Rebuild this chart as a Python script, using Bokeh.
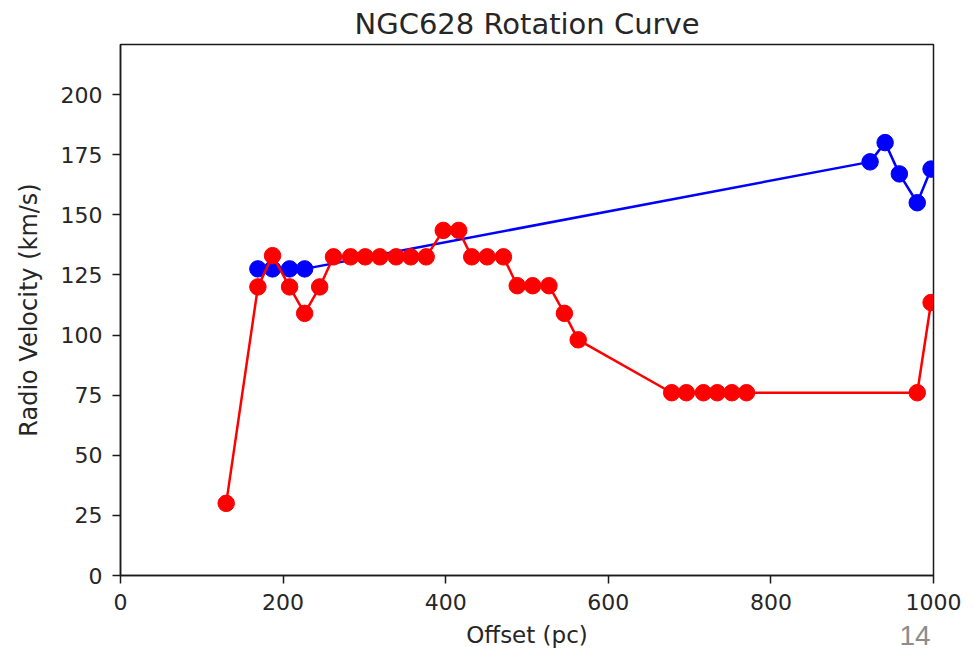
from bokeh.plotting import figure
from bokeh.models import Range1d, FixedTicker, Label
from bokeh.embed import file_html
from bokeh.resources import INLINE

# Data
blue_offset = [169, 187, 208, 226.5, 922, 940.5, 958, 980, 997]
blue_velocity = [127.5, 127.5, 127.5, 127.5, 172, 180, 167, 155, 169]

red_offset = [130, 169, 187, 208, 226.5, 245, 262, 283, 301, 319, 339, 357, 376,
              397, 416, 432, 451, 471, 488, 507, 527, 546, 563,
              678, 696, 717, 734, 752, 770, 980, 997]
red_velocity = [30, 120, 133, 120, 109, 120, 132.5, 132.5, 132.5, 132.5, 132.5, 132.5, 132.5,
                143.5, 143.5, 132.5, 132.5, 132.5, 120.5, 120.5, 120.5, 109, 98,
                76, 76, 76, 76, 76, 76, 76, 113.5]

x_ticks = [0, 200, 400, 600, 800, 1000]
y_ticks = [0, 25, 50, 75, 100, 125, 150, 175, 200]

slide_number = "14"

FONT = "DejaVu Sans"
TXT = "#262626"

FL, FR, FT, FB = 120, 933, 44, 575  # frame edges in canvas pixels

p = figure(width=974, height=651, output_backend="svg", toolbar_location=None,
           x_range=Range1d(0, 1000), y_range=Range1d(0, 220.8),
           title="NGC628 Rotation Curve",
           min_border_left=FL, min_border_right=974 - FR, min_border_top=FT,
           min_border_bottom=651 - FB)

p.title.align = "center"
p.title.text_font = FONT
p.title.text_font_size = "29px"
p.title.text_font_style = "normal"
p.title.text_color = TXT
p.title.standoff = 8

p.grid.visible = False
p.outline_line_color = "#1a1a1a"
p.outline_line_width = 1.5
p.background_fill_color = "white"
p.border_fill_color = "white"

for ax in (p.xaxis[0], p.yaxis[0]):
    ax.axis_line_color = "#1a1a1a"
    ax.axis_line_width = 1.5
    ax.major_tick_line_color = "#1a1a1a"
    ax.major_tick_line_width = 1.5
    ax.major_tick_out = 8
    ax.major_tick_in = 0
    ax.minor_tick_line_color = None
    ax.major_label_text_font = FONT
    ax.major_label_text_font_size = "22px"
    ax.major_label_text_color = TXT
    ax.major_label_standoff = 10
    ax.axis_label_text_font = FONT
    ax.axis_label_text_font_style = "normal"
    ax.axis_label_text_color = TXT

p.xaxis[0].ticker = FixedTicker(ticks=x_ticks)
p.yaxis[0].ticker = FixedTicker(ticks=y_ticks)
p.xaxis[0].axis_label = "Offset (pc)"
p.yaxis[0].axis_label = "Radio Velocity (km/s)"
p.xaxis[0].axis_label_text_font_size = "23px"
p.yaxis[0].axis_label_text_font_size = "24px"
p.xaxis[0].axis_label_standoff = 9
p.yaxis[0].axis_label_standoff = 15

p.line(blue_offset, blue_velocity, line_color="#0000ff", line_width=2.5)
p.scatter(blue_offset, blue_velocity, size=16.5, fill_color="#0000ff", line_color="#0000ff")
p.line(red_offset, red_velocity, line_color="#ff0000", line_width=2.5)
p.scatter(red_offset, red_velocity, size=16.5, fill_color="#ff0000", line_color="#ff0000")

# Slide number, placed in the right side panel (not clipped to the frame);
# screen units are relative to that panel's box
p.add_layout(Label(x=899 - FR, y=FB - 635, x_units="screen", y_units="screen",
                   text=slide_number, text_font="Liberation Sans", text_font_size="28px",
                   text_color="#8c8c8c", text_baseline="alphabetic", text_align="left"),
             "right")

open("out.html", "w").write(file_html(p, INLINE))
